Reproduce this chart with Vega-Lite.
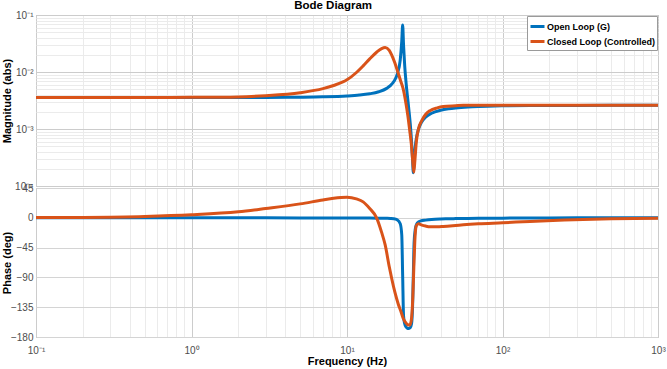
{
  "$schema": "https://vega.github.io/schema/vega-lite/v6.json",
  "background": "white",
  "padding": {"left": 0, "top": 0, "right": 9, "bottom": 0},
  "bounds": "flush",
  "title": {"text": "Bode Diagram", "anchor": "middle", "fontSize": 11.5, "fontWeight": "bold", "font": "Liberation Sans", "color": "#000000", "offset": -2},
  "config": {
    "font": "Liberation Sans",
    "view": {"stroke": "#a8a8a8"},
    "axis": {"labelColor": "#4d4d4d", "labelFontSize": 10, "titleFontSize": 11, "titleFontWeight": "bold", "titleColor": "#000000", "ticks": false, "domain": false, "labelOverlap": false, "labelFlush": false, "labelBound": false}
  },
  "datasets": {
    "bode": [
      {"f": 0.1, "s": "Open Loop (G)", "mag": 0.003566, "ph": 0},
      {"f": 0.2, "s": "Open Loop (G)", "mag": 0.003566, "ph": 0},
      {"f": 0.5, "s": "Open Loop (G)", "mag": 0.003567, "ph": 0},
      {"f": 1, "s": "Open Loop (G)", "mag": 0.003568, "ph": 0},
      {"f": 2, "s": "Open Loop (G)", "mag": 0.003573, "ph": -0.1},
      {"f": 3, "s": "Open Loop (G)", "mag": 0.003583, "ph": -0.1},
      {"f": 5, "s": "Open Loop (G)", "mag": 0.003614, "ph": -0.2},
      {"f": 7, "s": "Open Loop (G)", "mag": 0.003666, "ph": -0.2},
      {"f": 10, "s": "Open Loop (G)", "mag": 0.003796, "ph": -0.3},
      {"f": 12, "s": "Open Loop (G)", "mag": 0.003936, "ph": -0.3},
      {"f": 14, "s": "Open Loop (G)", "mag": 0.00415, "ph": -0.4},
      {"f": 16, "s": "Open Loop (G)", "mag": 0.0045, "ph": -0.6},
      {"f": 18, "s": "Open Loop (G)", "mag": 0.00516, "ph": -0.8},
      {"f": 19, "s": "Open Loop (G)", "mag": 0.00576, "ph": -1},
      {"f": 20, "s": "Open Loop (G)", "mag": 0.00679, "ph": -1.4},
      {"f": 21, "s": "Open Loop (G)", "mag": 0.00897, "ph": -3},
      {"f": 22, "s": "Open Loop (G)", "mag": 0.0163, "ph": -9},
      {"f": 22.5, "s": "Open Loop (G)", "mag": 0.0348, "ph": -26},
      {"f": 22.8, "s": "Open Loop (G)", "mag": 0.067, "ph": -87},
      {"f": 23.1, "s": "Open Loop (G)", "mag": 0.0296, "ph": -148},
      {"f": 23.5, "s": "Open Loop (G)", "mag": 0.01287, "ph": -160},
      {"f": 24, "s": "Open Loop (G)", "mag": 0.00633, "ph": -165},
      {"f": 24.5, "s": "Open Loop (G)", "mag": 0.00364, "ph": -167},
      {"f": 25, "s": "Open Loop (G)", "mag": 0.00217, "ph": -167},
      {"f": 25.5, "s": "Open Loop (G)", "mag": 0.001249, "ph": -166},
      {"f": 26, "s": "Open Loop (G)", "mag": 0.000614, "ph": -160},
      {"f": 26.4, "s": "Open Loop (G)", "mag": 0.000298, "ph": -135},
      {"f": 26.7, "s": "Open Loop (G)", "mag": 0.000171, "ph": -87},
      {"f": 27, "s": "Open Loop (G)", "mag": 0.000256, "ph": -38},
      {"f": 27.5, "s": "Open Loop (G)", "mag": 0.000498, "ph": -17},
      {"f": 28, "s": "Open Loop (G)", "mag": 0.000712, "ph": -10},
      {"f": 29, "s": "Open Loop (G)", "mag": 0.001037, "ph": -6},
      {"f": 30, "s": "Open Loop (G)", "mag": 0.00128, "ph": -4.5},
      {"f": 32, "s": "Open Loop (G)", "mag": 0.001604, "ph": -3.5},
      {"f": 35, "s": "Open Loop (G)", "mag": 0.001888, "ph": -2.5},
      {"f": 40, "s": "Open Loop (G)", "mag": 0.002135, "ph": -1.8},
      {"f": 45, "s": "Open Loop (G)", "mag": 0.002266, "ph": -1.5},
      {"f": 50, "s": "Open Loop (G)", "mag": 0.002346, "ph": -1.2},
      {"f": 60, "s": "Open Loop (G)", "mag": 0.002437, "ph": -0.9},
      {"f": 70, "s": "Open Loop (G)", "mag": 0.002485, "ph": -0.7},
      {"f": 80, "s": "Open Loop (G)", "mag": 0.002515, "ph": -0.6},
      {"f": 100, "s": "Open Loop (G)", "mag": 0.002547, "ph": -0.5},
      {"f": 150, "s": "Open Loop (G)", "mag": 0.002577, "ph": -0.3},
      {"f": 200, "s": "Open Loop (G)", "mag": 0.002588, "ph": -0.2},
      {"f": 300, "s": "Open Loop (G)", "mag": 0.002595, "ph": -0.1},
      {"f": 500, "s": "Open Loop (G)", "mag": 0.002598, "ph": 0},
      {"f": 1000, "s": "Open Loop (G)", "mag": 0.0026, "ph": 0},
      {"f": 0.1, "s": "Closed Loop (Controlled)", "mag": 0.003566, "ph": 0.3},
      {"f": 0.2, "s": "Closed Loop (Controlled)", "mag": 0.003566, "ph": 0.6},
      {"f": 0.5, "s": "Closed Loop (Controlled)", "mag": 0.00357, "ph": 2},
      {"f": 1, "s": "Closed Loop (Controlled)", "mag": 0.00359, "ph": 4.5},
      {"f": 2, "s": "Closed Loop (Controlled)", "mag": 0.00366, "ph": 9},
      {"f": 3, "s": "Closed Loop (Controlled)", "mag": 0.00385, "ph": 14},
      {"f": 5, "s": "Closed Loop (Controlled)", "mag": 0.00434, "ph": 21},
      {"f": 7, "s": "Closed Loop (Controlled)", "mag": 0.0051, "ph": 27},
      {"f": 8.2, "s": "Closed Loop (Controlled)", "mag": 0.0058, "ph": 29.5},
      {"f": 10, "s": "Closed Loop (Controlled)", "mag": 0.0073, "ph": 31},
      {"f": 11.5, "s": "Closed Loop (Controlled)", "mag": 0.0098, "ph": 28.5},
      {"f": 12.7, "s": "Closed Loop (Controlled)", "mag": 0.0128, "ph": 24},
      {"f": 14, "s": "Closed Loop (Controlled)", "mag": 0.017, "ph": 14},
      {"f": 15.5, "s": "Closed Loop (Controlled)", "mag": 0.0222, "ph": 0},
      {"f": 16.7, "s": "Closed Loop (Controlled)", "mag": 0.0258, "ph": -22},
      {"f": 17.6, "s": "Closed Loop (Controlled)", "mag": 0.027, "ph": -41},
      {"f": 18.7, "s": "Closed Loop (Controlled)", "mag": 0.024, "ph": -74},
      {"f": 19.4, "s": "Closed Loop (Controlled)", "mag": 0.0198, "ph": -92},
      {"f": 20.3, "s": "Closed Loop (Controlled)", "mag": 0.0145, "ph": -112},
      {"f": 21.4, "s": "Closed Loop (Controlled)", "mag": 0.0093, "ph": -131},
      {"f": 22.2, "s": "Closed Loop (Controlled)", "mag": 0.0068, "ph": -141},
      {"f": 23, "s": "Closed Loop (Controlled)", "mag": 0.005, "ph": -152},
      {"f": 24, "s": "Closed Loop (Controlled)", "mag": 0.0027, "ph": -159},
      {"f": 24.6, "s": "Closed Loop (Controlled)", "mag": 0.00174, "ph": -161.5},
      {"f": 25.3, "s": "Closed Loop (Controlled)", "mag": 0.00095, "ph": -162},
      {"f": 25.9, "s": "Closed Loop (Controlled)", "mag": 0.00056, "ph": -155},
      {"f": 26.5, "s": "Closed Loop (Controlled)", "mag": 0.00026, "ph": -120},
      {"f": 26.9, "s": "Closed Loop (Controlled)", "mag": 0.000175, "ph": -75},
      {"f": 27.3, "s": "Closed Loop (Controlled)", "mag": 0.00027, "ph": -35},
      {"f": 27.9, "s": "Closed Loop (Controlled)", "mag": 0.00059, "ph": -12},
      {"f": 28.8, "s": "Closed Loop (Controlled)", "mag": 0.001, "ph": -9},
      {"f": 30.3, "s": "Closed Loop (Controlled)", "mag": 0.00142, "ph": -11},
      {"f": 32, "s": "Closed Loop (Controlled)", "mag": 0.0018, "ph": -12.5},
      {"f": 34.2, "s": "Closed Loop (Controlled)", "mag": 0.0021, "ph": -13.6},
      {"f": 38, "s": "Closed Loop (Controlled)", "mag": 0.00235, "ph": -13.5},
      {"f": 41.6, "s": "Closed Loop (Controlled)", "mag": 0.00248, "ph": -13},
      {"f": 50, "s": "Closed Loop (Controlled)", "mag": 0.00256, "ph": -11.5},
      {"f": 56, "s": "Closed Loop (Controlled)", "mag": 0.0026, "ph": -10.5},
      {"f": 70, "s": "Closed Loop (Controlled)", "mag": 0.0026, "ph": -9},
      {"f": 100, "s": "Closed Loop (Controlled)", "mag": 0.0026, "ph": -7.5},
      {"f": 150, "s": "Closed Loop (Controlled)", "mag": 0.0026, "ph": -5.5},
      {"f": 250, "s": "Closed Loop (Controlled)", "mag": 0.0026, "ph": -3.5},
      {"f": 500, "s": "Closed Loop (Controlled)", "mag": 0.0026, "ph": -1.5},
      {"f": 1000, "s": "Closed Loop (Controlled)", "mag": 0.0026, "ph": -0.5}
    ]
  },
  "data": {"name": "bode"},
  "spacing": 2,
  "vconcat": [
    {
      "width": 622,
      "height": 171,
      "mark": {"type": "line", "strokeWidth": 3, "interpolate": "monotone", "clip": true},
      "encoding": {
        "x": {
          "field": "f", "type": "quantitative",
          "scale": {"type": "log", "domain": [0.1, 1000], "nice": false},
          "axis": {
            "title": null, "labels": false, "labelPadding": 0, "minExtent": 0, "maxExtent": 0, "offset": 0,
            "values": [0.1,0.2,0.3,0.4,0.5,0.6,0.7,0.8,0.9,1,2,3,4,5,6,7,8,9,10,20,30,40,50,60,70,80,90,100,200,300,400,500,600,700,800,900,1000],
            "gridColor": {"condition": {"test": "indexof([0.1,1,10,100,1000], datum.value) >= 0", "value": "#cccccc"}, "value": "#ebebeb"}
          }
        },
        "y": {
          "field": "mag", "type": "quantitative",
          "scale": {"type": "log", "domain": [0.0001, 0.1], "nice": false},
          "axis": {
            "title": "Magnitude (abs)", "titlePadding": 3, "labelPadding": 3, "minExtent": 21, "maxExtent": 21,
            "values": [0.0001,0.0002,0.0003,0.0004,0.0005,0.0006,0.0007,0.0008,0.0009,0.001,0.002,0.003,0.004,0.005,0.006,0.007,0.008,0.009,0.01,0.02,0.03,0.04,0.05,0.06,0.07,0.08,0.09,0.1],
            "labelExpr": "datum.value==0.1?'10⁻¹':datum.value==0.01?'10⁻²':datum.value==0.001?'10⁻³':datum.value==0.0001?'10⁻⁴':''",
            "gridColor": {"condition": {"test": "indexof([0.0001,0.001,0.01,0.1], datum.value) >= 0", "value": "#cccccc"}, "value": "#ebebeb"}
          }
        },
        "color": {
          "field": "s", "type": "nominal",
          "scale": {"domain": ["Open Loop (G)", "Closed Loop (Controlled)"], "range": ["#0072BD", "#D95319"]},
          "legend": {"orient": "top-right", "title": null, "offset": 1, "fillColor": "white", "strokeColor": "#9a9a9a", "padding": 2, "symbolType": "stroke", "symbolStrokeWidth": 3, "symbolSize": 196, "labelFontSize": 9, "labelFontWeight": "bold", "labelColor": "#000000", "rowPadding": 0, "labelOffset": 1}
        }
      }
    },
    {
      "width": 622,
      "height": 149,
      "mark": {"type": "line", "strokeWidth": 3, "interpolate": "monotone", "clip": true},
      "encoding": {
        "x": {
          "field": "f", "type": "quantitative",
          "scale": {"type": "log", "domain": [0.1, 1000], "nice": false},
          "axis": {
            "title": "Frequency  (Hz)", "labelPadding": 8, "titlePadding": 0,
            "values": [0.1,0.2,0.3,0.4,0.5,0.6,0.7,0.8,0.9,1,2,3,4,5,6,7,8,9,10,20,30,40,50,60,70,80,90,100,200,300,400,500,600,700,800,900,1000],
            "labelExpr": "datum.value==0.1?'10⁻¹':datum.value==1?'10⁰':datum.value==10?'10¹':datum.value==100?'10²':datum.value==1000?'10³':''",
            "gridColor": {"condition": {"test": "indexof([0.1,1,10,100,1000], datum.value) >= 0", "value": "#cccccc"}, "value": "#ebebeb"}
          }
        },
        "y": {
          "field": "ph", "type": "quantitative",
          "scale": {"domain": [-180, 45], "nice": false},
          "axis": {
            "title": "Phase (deg)", "titlePadding": 3, "labelPadding": 3, "minExtent": 21, "maxExtent": 21,
            "values": [-180, -135, -90, -45, 0, 45],
            "gridColor": "#d4d4d4"
          }
        },
        "color": {
          "field": "s", "type": "nominal",
          "scale": {"domain": ["Open Loop (G)", "Closed Loop (Controlled)"], "range": ["#0072BD", "#D95319"]},
          "legend": null
        }
      }
    }
  ]
}
